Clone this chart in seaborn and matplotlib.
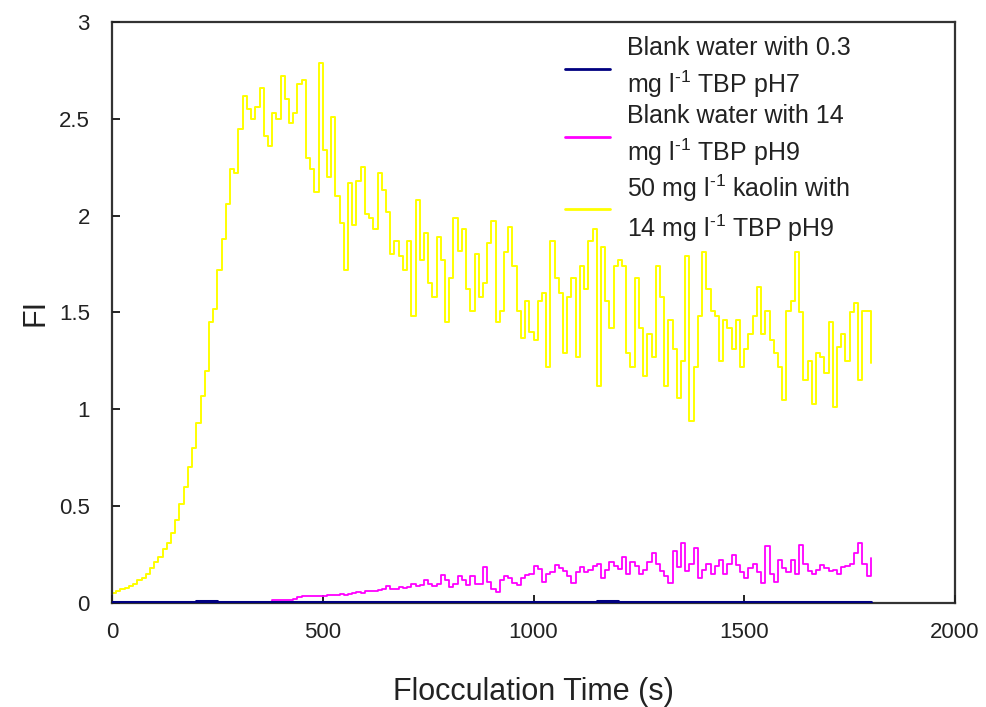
import numpy as np
import pandas as pd
import matplotlib
matplotlib.use('Agg')
import matplotlib.pyplot as plt
import seaborn as sns
import matplotlib.ticker as ticker

# Readings taken off the chart, sampled every 10 s (blue every 50 s)
time_10s = np.arange(0, 1801, 10)
time_50s = np.arange(0, 1801, 50)

kaolin_tbp_ph9 = [
    0.05, 0.06, 0.07, 0.08, 0.09, 0.10, 0.12, 0.13, 0.15, 0.18,
    0.21, 0.24, 0.28, 0.31, 0.36, 0.43, 0.51, 0.60, 0.70, 0.80,
    0.93, 1.07, 1.20, 1.45, 1.52, 1.72, 1.88, 2.06, 2.24, 2.22,
    2.45, 2.62, 2.55, 2.50, 2.56, 2.66, 2.41, 2.36, 2.53, 2.50,
    2.72, 2.60, 2.48, 2.53, 2.68, 2.70, 2.30, 2.24, 2.12, 2.79,
    2.34, 2.20, 2.51, 2.10, 1.96, 1.72, 2.17, 1.95, 2.18, 2.25,
    2.01, 1.99, 1.93, 2.22, 2.13, 2.02, 1.80, 1.87, 1.79, 1.72,
    1.87, 1.48, 2.08, 1.77, 1.91, 1.65, 1.58, 1.89, 1.77, 1.45,
    1.68, 1.99, 1.82, 1.93, 1.62, 1.51, 1.80, 1.58, 1.65, 1.86,
    1.97, 1.45, 1.51, 1.81, 1.94, 1.74, 1.51, 1.37, 1.56, 1.40,
    1.36, 1.56, 1.60, 1.22, 1.87, 1.68, 1.60, 1.29, 1.58, 1.68,
    1.27, 1.74, 1.62, 1.87, 1.93, 1.12, 1.84, 1.56, 1.42, 1.74,
    1.77, 1.74, 1.29, 1.22, 1.68, 1.42, 1.17, 1.39, 1.27, 1.74,
    1.58, 1.12, 1.46, 1.31, 1.06, 1.25, 1.79, 0.94, 1.22, 1.48,
    1.81, 1.62, 1.51, 1.48, 1.25, 1.46, 1.42, 1.31, 1.46, 1.22,
    1.31, 1.39, 1.48, 1.63, 1.39, 1.51, 1.36, 1.29, 1.22, 1.05,
    1.51, 1.56, 1.81, 1.50, 1.15, 1.25, 1.03, 1.29, 1.27, 1.19,
    1.45, 1.01, 1.32, 1.39, 1.25, 1.50, 1.55, 1.15, 1.51, 1.51,
    1.24,
]

blank_tbp14_ph9 = [
    0.005, 0.005, 0.005, 0.005, 0.005, 0.005, 0.005, 0.005, 0.005, 0.005,
    0.005, 0.005, 0.005, 0.005, 0.005, 0.005, 0.005, 0.005, 0.005, 0.005,
    0.005, 0.005, 0.005, 0.005, 0.005, 0.005, 0.005, 0.005, 0.005, 0.005,
    0.005, 0.005, 0.005, 0.005, 0.005, 0.005, 0.005, 0.005, 0.015, 0.017,
    0.017, 0.018, 0.017, 0.020, 0.030, 0.034, 0.034, 0.035, 0.036, 0.034,
    0.038, 0.042, 0.040, 0.042, 0.045, 0.043, 0.046, 0.053, 0.055, 0.053,
    0.062, 0.064, 0.060, 0.066, 0.070, 0.088, 0.072, 0.070, 0.085, 0.080,
    0.082, 0.100, 0.090, 0.092, 0.120, 0.100, 0.090, 0.098, 0.145, 0.120,
    0.085, 0.100, 0.138, 0.120, 0.094, 0.140, 0.100, 0.098, 0.185, 0.110,
    0.070, 0.058, 0.120, 0.140, 0.130, 0.104, 0.094, 0.130, 0.146, 0.150,
    0.190, 0.176, 0.110, 0.149, 0.160, 0.194, 0.180, 0.167, 0.140, 0.103,
    0.160, 0.185, 0.158, 0.170, 0.190, 0.203, 0.130, 0.170, 0.212, 0.190,
    0.176, 0.240, 0.149, 0.212, 0.190, 0.149, 0.170, 0.212, 0.257, 0.200,
    0.167, 0.140, 0.103, 0.266, 0.185, 0.310, 0.167, 0.200, 0.284, 0.130,
    0.170, 0.203, 0.149, 0.190, 0.220, 0.149, 0.200, 0.248, 0.194, 0.160,
    0.130, 0.180, 0.203, 0.160, 0.103, 0.293, 0.150, 0.110, 0.220, 0.180,
    0.158, 0.220, 0.149, 0.300, 0.200, 0.167, 0.149, 0.170, 0.194, 0.180,
    0.167, 0.170, 0.149, 0.185, 0.190, 0.203, 0.260, 0.310, 0.200, 0.140,
    0.230,
]

blank_tbp03_ph7 = [
    0.003, 0.003, 0.003, 0.003, 0.012, 0.003, 0.003, 0.003, 0.005, 0.003,
    0.003, 0.003, 0.003, 0.003, 0.003, 0.003, 0.003, 0.003, 0.003, 0.003,
    0.003, 0.003, 0.003, 0.008, 0.003, 0.003, 0.003, 0.003, 0.003, 0.003,
    0.003, 0.003, 0.003, 0.003, 0.003, 0.003, 0.003,
]

# superscript uses a plain hyphen like the original
sup = '$^{\u20101}$'
labels = ['Blank water with 0.3\nmg l' + sup + ' TBP pH7',
          'Blank water with 14\nmg l' + sup + ' TBP pH9',
          '50 mg l' + sup + ' kaolin with\n14 mg l' + sup + ' TBP pH9']
colours = ['#000080', '#FF00FF', '#FFFF00']

sns.set_style('white', {'xtick.bottom': True, 'ytick.left': True,
                        'axes.axisbelow': False})
plt.rcParams['font.family'] = ['Liberation Sans', 'DejaVu Sans']
plt.rcParams['mathtext.fontset'] = 'custom'
plt.rcParams['mathtext.rm'] = 'Liberation Sans'
plt.rcParams['mathtext.default'] = 'regular'
text_colour = '#222222'

fig = plt.figure(figsize=(9.86, 7.07), dpi=100)
ax = fig.add_axes([0.1136, 0.1471, 0.855, 0.8218])

sns.lineplot(x=time_50s, y=blank_tbp03_ph7, ax=ax, color=colours[0],
             lw=2.2, drawstyle='steps-post', label=labels[0], zorder=4)
sns.lineplot(x=time_10s, y=blank_tbp14_ph9, ax=ax, color=colours[1],
             lw=1.3, drawstyle='steps-post', label=labels[1], zorder=3)
sns.lineplot(x=time_10s, y=kaolin_tbp_ph9, ax=ax, color=colours[2],
             lw=1.4, drawstyle='steps-post', label=labels[2], zorder=2)

ax.set_xlim(0, 2000)
ax.set_ylim(0, 3)
ax.xaxis.set_major_locator(ticker.MultipleLocator(500))
ax.yaxis.set_major_locator(ticker.MultipleLocator(0.5))
ax.yaxis.set_major_formatter(ticker.FormatStrFormatter('%g'))

for side in ['left', 'right', 'top', 'bottom']:
    ax.spines[side].set_visible(True)
    ax.spines[side].set_color('#333333')
    ax.spines[side].set_linewidth(1.6)

ax.tick_params(axis='both', which='major', direction='in', length=6,
               width=1.4, color='#222222', labelsize=16,
               labelcolor=text_colour, bottom=True, left=True,
               top=False, right=False)
ax.tick_params(axis='x', pad=14)
ax.tick_params(axis='y', pad=16)

ax.set_xlabel('Flocculation Time (s)', fontsize=22, color=text_colour,
              labelpad=24)
ax.set_ylabel('FI', fontsize=22, color=text_colour, labelpad=6)

leg = ax.legend(loc='upper left', bbox_to_anchor=(0.537, 0.976),
                frameon=False, fontsize=18, handlelength=1.8,
                handletextpad=0.7, borderpad=0, borderaxespad=0,
                labelspacing=0.18)
for t in leg.get_texts():
    t.set_color(text_colour)
    t.set_linespacing(1.35)
for h in leg.get_lines():
    h.set_linewidth(2)

plt.savefig('out.png', dpi=100)
